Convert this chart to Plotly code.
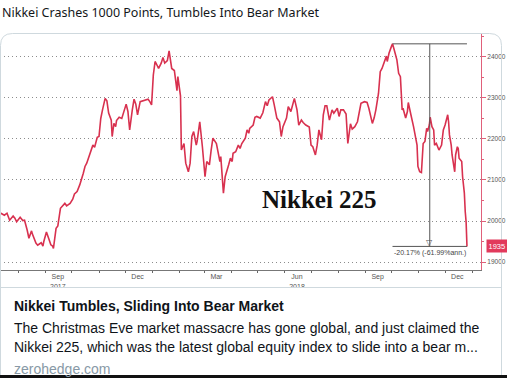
import plotly.graph_objects as go
import pandas as pd

W, H = 507, 378

# ---------------- data ----------------
dates = [
    "2017-07-11", "2017-07-14", "2017-07-16", "2017-07-19", "2017-07-22", "2017-07-26", "2017-07-28", "2017-07-30",
    "2017-08-03", "2017-08-06", "2017-08-08", "2017-08-11", "2017-08-13", "2017-08-16", "2017-08-17", "2017-08-21",
    "2017-08-23", "2017-08-27", "2017-08-29", "2017-08-30", "2017-09-02", "2017-09-05", "2017-09-07", "2017-09-09",
    "2017-09-10", "2017-09-13", "2017-09-15", "2017-09-18", "2017-09-21", "2017-09-23", "2017-09-25", "2017-09-29",
    "2017-10-02", "2017-10-04", "2017-10-07", "2017-10-10", "2017-10-14", "2017-10-16", "2017-10-18", "2017-10-20",
    "2017-10-24", "2017-10-25", "2017-10-27", "2017-10-30", "2017-11-01", "2017-11-03", "2017-11-05", "2017-11-08",
    "2017-11-10", "2017-11-12", "2017-11-15", "2017-11-16", "2017-11-18", "2017-11-20", "2017-11-21", "2017-11-24",
    "2017-11-27", "2017-11-29", "2017-12-02", "2017-12-04", "2017-12-06", "2017-12-09", "2017-12-11", "2017-12-13",
    "2017-12-15", "2017-12-18", "2017-12-21", "2017-12-23", "2017-12-27", "2017-12-29", "2017-12-31", "2018-01-02",
    "2018-01-04", "2018-01-06", "2018-01-08", "2018-01-11", "2018-01-13", "2018-01-15", "2018-01-18", "2018-01-20",
    "2018-01-23", "2018-01-26", "2018-01-29", "2018-01-30", "2018-02-02", "2018-02-03", "2018-02-06", "2018-02-08",
    "2018-02-11", "2018-02-13", "2018-02-15", "2018-02-17", "2018-02-20", "2018-02-21", "2018-02-24", "2018-02-27",
    "2018-03-01", "2018-03-02", "2018-03-04", "2018-03-07", "2018-03-09", "2018-03-11", "2018-03-15", "2018-03-17",
    "2018-03-19", "2018-03-20", "2018-03-23", "2018-03-25", "2018-03-27", "2018-03-29", "2018-03-31", "2018-04-02",
    "2018-04-03", "2018-04-06", "2018-04-09", "2018-04-11", "2018-04-13", "2018-04-17", "2018-04-19", "2018-04-21",
    "2018-04-22", "2018-04-26", "2018-04-28", "2018-04-30", "2018-05-04", "2018-05-07", "2018-05-10", "2018-05-12",
    "2018-05-14", "2018-05-18", "2018-05-20", "2018-05-23", "2018-05-26", "2018-05-28", "2018-05-30", "2018-06-03",
    "2018-06-05", "2018-06-08", "2018-06-12", "2018-06-14", "2018-06-15", "2018-06-17", "2018-06-20", "2018-06-22",
    "2018-06-25", "2018-06-29", "2018-07-01", "2018-07-03", "2018-07-06", "2018-07-08", "2018-07-10", "2018-07-13",
    "2018-07-15", "2018-07-17", "2018-07-19", "2018-07-22", "2018-07-25", "2018-07-27", "2018-07-31", "2018-08-02",
    "2018-08-04", "2018-08-07", "2018-08-10", "2018-08-12", "2018-08-15", "2018-08-17", "2018-08-20", "2018-08-23",
    "2018-08-25", "2018-08-27", "2018-08-31", "2018-09-03", "2018-09-05", "2018-09-09", "2018-09-11", "2018-09-13",
    "2018-09-16", "2018-09-18", "2018-09-20", "2018-09-23", "2018-09-25", "2018-09-26", "2018-09-28", "2018-10-01",
    "2018-10-02", "2018-10-04", "2018-10-07", "2018-10-09", "2018-10-11", "2018-10-13", "2018-10-14", "2018-10-17",
    "2018-10-19", "2018-10-20", "2018-10-22", "2018-10-23", "2018-10-26", "2018-10-28", "2018-10-30", "2018-10-31",
    "2018-11-02", "2018-11-04", "2018-11-05", "2018-11-06", "2018-11-08", "2018-11-10", "2018-11-11", "2018-11-13",
    "2018-11-14", "2018-11-16", "2018-11-18", "2018-11-19", "2018-11-21", "2018-11-23", "2018-11-24", "2018-11-27",
    "2018-11-29", "2018-12-01", "2018-12-04", "2018-12-05", "2018-12-06", "2018-12-08", "2018-12-09", "2018-12-12",
    "2018-12-13", "2018-12-15", "2018-12-16", "2018-12-17", "2018-12-20", "2018-12-21", "2018-12-23", "2018-12-24",
    "2018-12-25", "2018-12-26",
]
values = [
    20200, 20170, 20140, 20190, 20020, 20120, 20070, 19980,
    20090, 20010, 20020, 19780, 19580, 19760, 19680, 19460,
    19410, 19470, 19390, 19500, 19730, 19550, 19420, 19390,
    19330, 19820, 19880, 20310, 20390, 20430, 20370, 20430,
    20530, 20660, 20720, 20880, 21160, 21330, 21410, 21530,
    21770, 21850, 21800, 22040, 22060, 22500, 22710, 22990,
    22930, 22630, 22460, 22060, 22380, 22300, 22450, 22530,
    22500, 22630, 22850, 22670, 22220, 22710, 22970, 22850,
    22590, 22910, 22930, 22950, 22970, 22910, 22830, 23560,
    23890, 23810, 23720, 23850, 23990, 23850, 23910, 24150,
    23720, 23670, 23180, 23520, 23050, 21730, 21890, 21410,
    21200, 21410, 22060, 22180, 21850, 21940, 22420, 21810,
    21330, 21080, 21450, 21370, 21730, 22020, 21890, 21650,
    21450, 21570, 20680, 21080, 21200, 21370, 21530, 21450,
    21650, 21690, 21850, 21770, 21890, 22020, 22220, 22140,
    22260, 22340, 22530, 22550, 22510, 22640, 22910, 22810,
    22950, 23030, 22830, 22510, 22420, 22060, 22300, 22510,
    22790, 22670, 22990, 22830, 22710, 22340, 22460, 22400,
    22340, 22290, 21850, 21810, 21610, 21850, 22220, 21980,
    22590, 22810, 22810, 22460, 22710, 22630, 22750, 22550,
    22710, 22710, 22610, 21890, 22370, 22240, 22300, 22420,
    22670, 22870, 22910, 22890, 22750, 22380, 22510, 22710,
    23110, 23640, 23720, 23890, 24020, 23890, 24090, 24270,
    24320, 24170, 23930, 23600, 23520, 22710, 22750, 22510,
    22670, 22890, 22630, 22590, 22300, 22060, 21850, 21330,
    21200, 21180, 21570, 21890, 21940, 22260, 22180, 22340,
    22530, 22300, 22220, 21850, 21890, 21770, 21730, 21850,
    22220, 22340, 22590, 22420, 22100, 21850, 21610, 21200,
    21610, 21810, 21770, 21530, 21450, 21080, 20680, 20230,
    19980, 19380,
]

y_tickvals = [19000, 20000, 21000, 22000, 23000, 24000]
y_ticktext = ["19000", "20000", "21000", "22000", "23000", "24000"]
x_label_dates = ["2017-09-15", "2017-12-15", "2018-03-15", "2018-06-15", "2018-09-15", "2018-12-15"]
x_label_text = ["Sep<br>2017", "Dec", "Mar", "Jun<br>2018", "Sep", "Dec"]
quarter_starts = ["2017-10-01", "2018-01-01", "2018-04-01", "2018-07-01", "2018-10-01", "2019-01-01"]
x_range = ["2017-07-11", "2019-01-11"]
y_range = [18805, 24560]

chart_label = "Nikkei 225"
drawdown_text = "-20.17% (-61.99%ann.)"
last_value_text = "1935"
tweet_text = "Nikkei Crashes 1000 Points, Tumbles Into Bear Market"
card_title = "Nikkei Tumbles, Sliding Into Bear Market"
card_desc = [
    "The Christmas Eve market massacre has gone global, and just claimed the",
    "Nikkei 225, which was the latest global equity index to slide into a bear m...",
]
card_domain = "zerohedge.com"

# ---------------- helpers (pixel -> paper) ----------------
def px(x):
    return x / W

def py(y):
    return 1 - y / H

LINE_RED = "#d8314f"
AXIS_RED = "#e0607a"
GRID = "#8c8c8c"
TXT = "#14171a"
BORDER = "#cfd9de"

fig = go.Figure()
fig.add_trace(go.Scatter(
    x=dates, y=values, mode="lines",
    line=dict(color=LINE_RED, width=1.6),
    hoverinfo="skip", showlegend=False,
))

# drawdown annotation (peak -> last)
i_peak = max(range(len(values)), key=lambda i: values[i])
peak_date, peak_val = dates[i_peak], values[i_peak]
end_date, end_val = dates[-1], values[-1]
t0, t1 = pd.Timestamp(peak_date), pd.Timestamp(end_date)
mid_date = (t0 + (t1 - t0) / 2).strftime("%Y-%m-%d %H:%M")

shapes = []
ann_line = dict(color="#555555", width=1)
shapes.append(dict(type="line", xref="x", yref="y", x0=peak_date, x1=end_date, y0=peak_val, y1=peak_val, line=ann_line))
shapes.append(dict(type="line", xref="x", yref="y", x0=peak_date, x1=end_date, y0=end_val, y1=end_val, line=ann_line))
shapes.append(dict(type="line", xref="x", yref="y", x0=mid_date, x1=mid_date, y0=peak_val, y1=end_val, line=ann_line))

# card chrome
shapes.append(dict(type="rect", xref="paper", yref="paper", x0=px(1), x1=px(501.5), y0=py(375), y1=py(287.5),
                   fillcolor="white", line=dict(width=0), layer="above"))
L, T, R, B, r = 0.5, 33.5, 501.5, 420, 12
path = (f"M {px(L)},{py(B)} L {px(L)},{py(T + r)} Q {px(L)},{py(T)} {px(L + r)},{py(T)} "
        f"L {px(R - r)},{py(T)} Q {px(R)},{py(T)} {px(R)},{py(T + r)} L {px(R)},{py(B)}")
shapes.append(dict(type="path", xref="paper", yref="paper", path=path, line=dict(color=BORDER, width=1),
                   fillcolor="rgba(0,0,0,0)", layer="above"))
shapes.append(dict(type="line", xref="paper", yref="paper", x0=px(0.5), x1=px(501.5), y0=py(287.5), y1=py(287.5),
                   line=dict(color=BORDER, width=1), layer="above"))
shapes.append(dict(type="rect", xref="paper", yref="paper", x0=0, x1=1, y0=0, y1=py(375),
                   fillcolor="#111111", line=dict(width=0), layer="above"))

annotations = []
annotations.append(dict(xref="x", yref="y", x=mid_date, y=end_val, text="▽", showarrow=False,
                        yanchor="bottom", yshift=-3, font=dict(size=8, color="#555555", family="DejaVu Sans")))
annotations.append(dict(xref="x", yref="y", x=mid_date, y=end_val, text=drawdown_text, showarrow=False,
                        yanchor="top", yshift=-1, font=dict(size=7, color="#444444", family="Liberation Sans")))
annotations.append(dict(xref="paper", yref="y", x=px(485.5), y=end_val, text=last_value_text, showarrow=False,
                        xanchor="left", yanchor="middle", bgcolor="#e23a5c", borderpad=1.5,
                        font=dict(size=7.5, color="white", family="Liberation Sans")))
annotations.append(dict(xref="paper", yref="paper", x=px(319), y=py(199), text=chart_label, showarrow=False,
                        xanchor="center", yanchor="middle",
                        font=dict(size=25, color="#111111", family="Liberation Serif", weight="bold")))
annotations.append(dict(xref="paper", yref="paper", x=px(0), y=py(12.5), text=tweet_text, showarrow=False,
                        xanchor="left", yanchor="middle", font=dict(size=12.5, color=TXT, family="Noto Sans")))
annotations.append(dict(xref="paper", yref="paper", x=px(12), y=py(306), text=f"<b>{card_title}</b>", showarrow=False,
                        xanchor="left", yanchor="middle", font=dict(size=14, color="#0f1419", family="Liberation Sans")))
for k, line in enumerate(card_desc):
    annotations.append(dict(xref="paper", yref="paper", x=px(12), y=py(328 + 18.5 * k), text=line, showarrow=False,
                            xanchor="left", yanchor="middle", font=dict(size=14, color="#0f1419", family="Liberation Sans")))
annotations.append(dict(xref="paper", yref="paper", x=px(12), y=py(368.5), text=card_domain, showarrow=False,
                        xanchor="left", yanchor="middle", font=dict(size=14, color="#8899a6", family="Liberation Sans")))

xdom = [0, px(481)]
ydom = [py(270), py(34)]

fig.update_layout(
    width=W, height=H, autosize=False,
    margin=dict(l=0, r=0, t=0, b=0, pad=0),
    paper_bgcolor="white", plot_bgcolor="white",
    showlegend=False,
    xaxis=dict(
        domain=xdom, range=x_range, type="date",
        tickmode="array", tickvals=x_label_dates, ticktext=x_label_text,
        ticks="", showgrid=False, zeroline=False,
        showline=True, linecolor="#777777", linewidth=1,
        tickfont=dict(size=7, color="#555555", family="Liberation Sans"),
        minor=dict(tickmode="linear", tick0="2017-07-01", dtick="M1", ticks="outside",
                   ticklen=2, tickcolor="#666666", showgrid=False),
        fixedrange=True, anchor="y",
    ),
    xaxis2=dict(
        domain=xdom, range=x_range, type="date", overlaying="x", anchor="y",
        tickmode="array", tickvals=quarter_starts, showticklabels=False, ticks="",
        showgrid=True, gridcolor=GRID, griddash="1px,3px", gridwidth=1,
        showline=False, zeroline=False, fixedrange=True,
    ),
    yaxis=dict(
        domain=ydom, range=y_range, side="right", anchor="x",
        tickmode="array", tickvals=y_tickvals, ticktext=y_ticktext,
        ticks="outside", ticklen=4, tickcolor=AXIS_RED, tickwidth=1,
        showline=True, linecolor=AXIS_RED, linewidth=1,
        showgrid=True, gridcolor=GRID, griddash="1px,3px", gridwidth=1,
        zeroline=False,
        tickfont=dict(size=6.5, color="#555555", family="Liberation Sans"),
        minor=dict(tickmode="linear", tick0=19500, dtick=1000, ticks="outside", ticklen=2,
                   tickcolor=AXIS_RED, showgrid=False),
        fixedrange=True,
    ),
    shapes=shapes,
    annotations=annotations,
)

fig.write_html(
    "out.html",
    config={"displayModeBar": False, "staticPlot": True},
    post_script="document.body.style.margin='0px';document.body.style.overflow='hidden';",
)
